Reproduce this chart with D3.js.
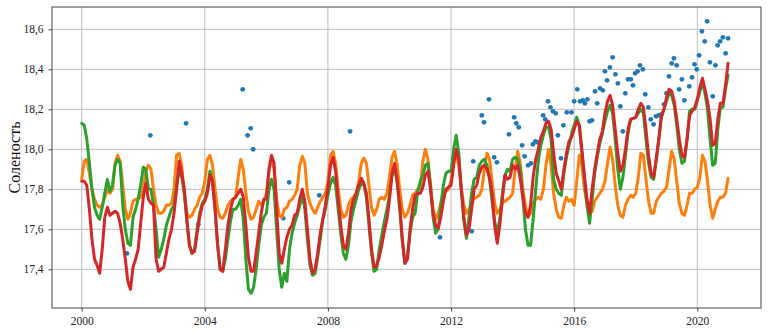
<!DOCTYPE html>
<html><head><meta charset="utf-8">
<script src="https://cdn.jsdelivr.net/npm/d3@7"></script>
<style>body{margin:0;background:#fff}svg{display:block}text{font-family:"Liberation Serif","Times New Roman",serif}</style>
</head><body><div id="chart"></div>
<script>
// monthly series, Jan 2000 .. Jan 2021
const startYear = 2000;
const redSeries = [
17.84,17.84,17.82,17.70,17.55,17.45,17.42,17.38,17.50,17.66,17.71,17.67,
17.68,17.69,17.68,17.63,17.55,17.45,17.34,17.30,17.41,17.45,17.50,17.63,
17.76,17.83,17.75,17.73,17.72,17.45,17.39,17.40,17.41,17.48,17.55,17.60,
17.68,17.80,17.94,17.88,17.80,17.65,17.52,17.48,17.49,17.58,17.66,17.72,
17.74,17.78,17.87,17.84,17.70,17.52,17.40,17.39,17.50,17.62,17.70,17.75,
17.76,17.78,17.80,17.76,17.62,17.46,17.39,17.39,17.48,17.58,17.68,17.75,
17.75,17.90,17.97,17.93,17.70,17.48,17.43,17.50,17.56,17.60,17.62,17.67,
17.68,17.75,17.80,17.74,17.60,17.45,17.38,17.40,17.48,17.58,17.65,17.72,
17.81,17.92,17.96,17.89,17.75,17.62,17.52,17.50,17.58,17.70,17.75,17.78,
17.82,17.855,17.83,17.78,17.65,17.50,17.41,17.42,17.46,17.52,17.59,17.65,
17.75,17.88,17.93,17.84,17.72,17.55,17.43,17.45,17.60,17.70,17.77,17.78,
17.78,17.81,17.87,17.89,17.80,17.68,17.62,17.605,17.66,17.74,17.80,17.81,
17.82,17.92,18.00,17.95,17.80,17.66,17.57,17.60,17.70,17.80,17.82,17.88,
17.91,17.92,17.90,17.86,17.78,17.62,17.53,17.62,17.75,17.87,17.85,17.86,
17.92,17.90,17.92,17.85,17.76,17.68,17.66,17.72,17.86,17.95,18.00,18.06,
18.09,18.13,18.14,18.10,17.98,17.88,17.84,17.80,17.90,17.98,18.04,18.06,
18.10,18.14,18.12,18.00,17.87,17.75,17.68,17.80,17.90,17.98,18.05,18.09,
18.18,18.24,18.27,18.22,18.10,17.98,17.89,17.92,18.00,18.10,18.15,18.155,
18.16,18.20,18.23,18.21,18.10,17.97,17.88,17.86,17.95,18.05,18.17,18.20,
18.26,18.30,18.29,18.24,18.15,18.05,17.97,17.96,18.05,18.17,18.19,18.21,
18.25,18.31,18.355,18.30,18.24,18.15,18.02,18.03,18.15,18.23,18.23,18.32,
18.43];
const greenSeries = [
18.13,18.12,18.05,17.93,17.80,17.71,17.67,17.65,17.71,17.78,17.85,17.79,
17.82,17.92,17.95,17.93,17.72,17.60,17.53,17.52,17.66,17.70,17.75,17.82,
17.91,17.90,17.80,17.80,17.72,17.60,17.46,17.50,17.55,17.62,17.66,17.70,
17.72,17.82,17.90,17.86,17.78,17.64,17.52,17.48,17.50,17.60,17.68,17.73,
17.75,17.80,17.89,17.84,17.70,17.52,17.40,17.39,17.45,17.55,17.64,17.70,
17.70,17.72,17.75,17.65,17.45,17.30,17.28,17.31,17.40,17.52,17.62,17.66,
17.68,17.80,17.85,17.80,17.60,17.40,17.31,17.38,17.34,17.50,17.58,17.63,
17.67,17.72,17.77,17.70,17.55,17.42,17.37,17.38,17.46,17.55,17.65,17.70,
17.77,17.83,17.86,17.82,17.70,17.58,17.48,17.45,17.52,17.64,17.70,17.75,
17.80,17.83,17.82,17.76,17.62,17.48,17.39,17.40,17.50,17.57,17.64,17.70,
17.77,17.87,17.91,17.83,17.70,17.54,17.43,17.46,17.58,17.66,17.68,17.79,
17.84,17.87,17.92,17.93,17.82,17.66,17.58,17.60,17.72,17.82,17.88,17.89,
17.89,18.00,18.07,17.98,17.80,17.64,17.555,17.66,17.78,17.85,17.86,17.92,
17.94,17.95,17.92,17.85,17.74,17.64,17.58,17.65,17.78,17.87,17.90,17.89,
17.95,17.96,17.95,17.90,17.76,17.60,17.52,17.52,17.65,17.80,17.94,18.02,
18.07,18.11,18.11,18.05,17.85,17.80,17.78,17.77,17.88,17.96,18.02,18.08,
18.12,18.16,18.12,17.98,17.85,17.72,17.63,17.75,17.88,17.96,18.03,18.08,
18.14,18.19,18.22,18.18,18.05,17.90,17.80,17.86,17.97,18.08,18.15,18.155,
18.16,18.18,18.20,18.18,18.05,17.93,17.86,17.85,17.95,18.05,18.16,18.20,
18.24,18.28,18.27,18.22,18.12,18.00,17.93,17.94,18.05,18.19,18.20,18.20,
18.24,18.29,18.33,18.28,18.20,18.05,17.92,17.93,18.10,18.21,18.21,18.30,
18.37];
const orangeSeries = [
17.85,17.94,17.95,17.88,17.80,17.75,17.72,17.71,17.72,17.76,17.80,17.78,
17.80,17.93,17.97,17.94,17.82,17.70,17.65,17.68,17.74,17.75,17.755,17.76,
17.80,17.89,17.92,17.90,17.80,17.72,17.68,17.68,17.69,17.72,17.72,17.73,
17.80,17.97,17.98,17.92,17.78,17.68,17.66,17.67,17.70,17.72,17.76,17.78,
17.84,17.95,17.97,17.92,17.80,17.70,17.66,17.655,17.68,17.72,17.74,17.75,
17.76,17.86,17.95,17.90,17.78,17.69,17.65,17.66,17.70,17.74,17.72,17.74,
17.78,17.89,17.96,17.90,17.75,17.67,17.66,17.70,17.71,17.74,17.75,17.77,
17.80,17.92,17.965,17.93,17.78,17.73,17.70,17.68,17.71,17.74,17.76,17.78,
17.84,17.97,17.99,17.93,17.80,17.70,17.66,17.67,17.72,17.75,17.76,17.78,
17.84,17.93,17.955,17.93,17.82,17.71,17.67,17.70,17.75,17.76,17.75,17.78,
17.86,17.96,17.99,17.92,17.80,17.70,17.66,17.68,17.72,17.77,17.78,17.80,
17.81,17.94,18.00,17.95,17.82,17.70,17.65,17.68,17.73,17.78,17.79,17.80,
17.84,17.94,17.98,17.92,17.80,17.72,17.68,17.70,17.73,17.755,17.76,17.77,
17.80,17.90,17.98,17.95,17.84,17.73,17.68,17.70,17.73,17.74,17.75,17.76,
17.78,17.90,17.99,17.93,17.80,17.72,17.66,17.68,17.73,17.75,17.76,17.75,
17.80,17.92,18.00,17.92,17.78,17.70,17.66,17.655,17.72,17.76,17.74,17.75,
17.72,17.84,17.97,17.92,17.80,17.73,17.70,17.69,17.74,17.76,17.78,17.80,
17.84,17.93,18.01,17.95,17.82,17.72,17.67,17.66,17.72,17.75,17.77,17.76,
17.78,17.86,17.98,17.97,17.85,17.74,17.68,17.68,17.74,17.76,17.78,17.79,
17.81,17.90,17.99,17.95,17.84,17.73,17.68,17.67,17.72,17.78,17.78,17.80,
17.81,17.86,17.97,17.94,17.84,17.72,17.655,17.70,17.74,17.76,17.76,17.78,
17.855];
// observations (decimal year, salinity)
const obsDates = [2001.47,2002.23,2003.39,2003.79,2005.23,2005.39,2005.49,2005.57,2006.55,2006.74,2007.72,2008.72,
2011.64,2012.67,2012.72,2013.0,2013.07,2013.23,2013.4,2013.49,2013.88,
2014.05,2014.12,2014.2,2014.31,2014.39,2014.5,2014.6,2014.66,2014.74,2014.81,
2014.99,2015.06,2015.15,2015.23,2015.31,2015.4,2015.47,2015.57,2015.65,2015.76,2015.91,2016.0,2016.1,2016.19,2016.28,2016.35,2016.43,
2016.5,2016.58,2016.68,2016.75,2016.84,2016.93,2017.0,2017.07,2017.16,2017.25,2017.34,2017.42,2017.5,2017.58,2017.66,2017.75,2017.84,2017.91,2017.98,2018.06,2018.14,
2018.23,2018.31,2018.41,2018.49,2018.58,2018.66,2018.75,2018.84,2018.92,2019.0,2019.08,2019.17,2019.24,2019.33,2019.41,2019.5,2019.58,2019.74,2019.83,2019.91,
2019.98,2020.06,2020.15,2020.24,2020.32,2020.41,2020.5,2020.59,2020.66,2020.74,2020.83,2020.92,2021.0];
const obsValues = [17.48,18.07,18.13,17.625,18.30,18.07,18.105,18.0,17.655,17.835,17.77,18.09,
17.56,17.59,17.94,18.17,18.135,18.25,17.96,17.935,18.075,
18.16,18.13,18.11,18.02,17.965,17.92,17.93,18.025,18.04,18.035,
18.17,18.15,18.24,18.21,18.19,18.18,18.07,17.955,18.12,18.185,18.185,18.24,18.30,18.24,18.245,18.23,18.25,
18.14,18.145,18.29,18.23,18.305,18.295,18.39,18.345,18.41,18.46,18.375,18.33,18.215,18.09,18.28,18.35,18.35,18.32,18.38,18.39,18.42,
18.40,18.275,18.21,18.15,18.125,18.165,18.17,18.175,18.225,18.28,18.365,18.43,18.455,18.42,18.30,18.35,18.245,18.315,18.36,18.425,
18.40,18.47,18.59,18.54,18.64,18.435,18.265,18.42,18.52,18.54,18.56,18.48,18.555];
const yTicks = [17.4,17.6,17.8,18.0,18.2,18.4,18.6];
const xTicks = [2000,2004,2008,2012,2016,2020];
const yLabel = "Соленость";

const W = 768, H = 333;
const L = 52, R = 761, T = 7, B = 308;
const svg = d3.select("#chart").append("svg").attr("width", W).attr("height", H);
const x = d3.scaleLinear().domain([1999.035, 2022.07]).range([L, R]);
const y = d3.scaleLinear().domain([17.2065, 18.7115]).range([B, T]);
const months = d3.range(redSeries.length).map(i => startYear + i / 12);

// grid
svg.append("g").selectAll("line").data(xTicks).join("line")
  .attr("x1", d => x(d)).attr("x2", d => x(d)).attr("y1", T).attr("y2", B)
  .attr("stroke", "#bcbcbc").attr("stroke-width", 1);
svg.append("g").selectAll("line").data(yTicks).join("line")
  .attr("x1", L).attr("x2", R).attr("y1", d => y(d)).attr("y2", d => y(d))
  .attr("stroke", "#bcbcbc").attr("stroke-width", 1);

const fmt = d => d3.format(".1f")(d).replace(".", ",");
const xAxis = d3.axisBottom(x).tickValues(xTicks).tickFormat(d3.format("d")).tickSize(3.5).tickPadding(5);
const yAxis = d3.axisLeft(y).tickValues(yTicks).tickFormat(fmt).tickSize(3.5).tickPadding(5);
const gx = svg.append("g").attr("transform", `translate(0,${B})`).call(xAxis);
const gy = svg.append("g").attr("transform", `translate(${L},0)`).call(yAxis);
[gx, gy].forEach(g => {
  g.select(".domain").remove();
  g.selectAll(".tick line").attr("stroke", "#444");
  g.selectAll(".tick text").attr("font-size", 11.5).attr("fill", "#222")
    .attr("font-family", "'Liberation Serif','Times New Roman',serif");
});

// observations
svg.append("g").selectAll("circle").data(obsDates).join("circle")
  .attr("cx", (d) => x(d)).attr("cy", (d, i) => y(obsValues[i])).attr("r", 2.4)
  .attr("fill", "#1f77b4");

const line = d3.line().x((d, i) => x(months[i])).y(d => y(d));
[[orangeSeries, "#ff7f0e"], [greenSeries, "#2ca02c"], [redSeries, "#d62728"]].forEach(([s, c]) => {
  svg.append("path").datum(s).attr("d", line).attr("fill", "none")
    .attr("stroke", c).attr("stroke-width", 3).attr("stroke-linejoin", "round").attr("stroke-linecap", "round");
});

// frame
svg.append("rect").attr("x", L).attr("y", T).attr("width", R - L).attr("height", B - T)
  .attr("fill", "none").attr("stroke", "#444").attr("stroke-width", 1);

svg.append("text").attr("transform", `translate(14,${(T + B) / 2}) rotate(-90)`)
  .attr("text-anchor", "middle").attr("dominant-baseline", "central")
  .attr("font-size", 16).attr("fill", "#111").text(yLabel);
</script></body></html>
